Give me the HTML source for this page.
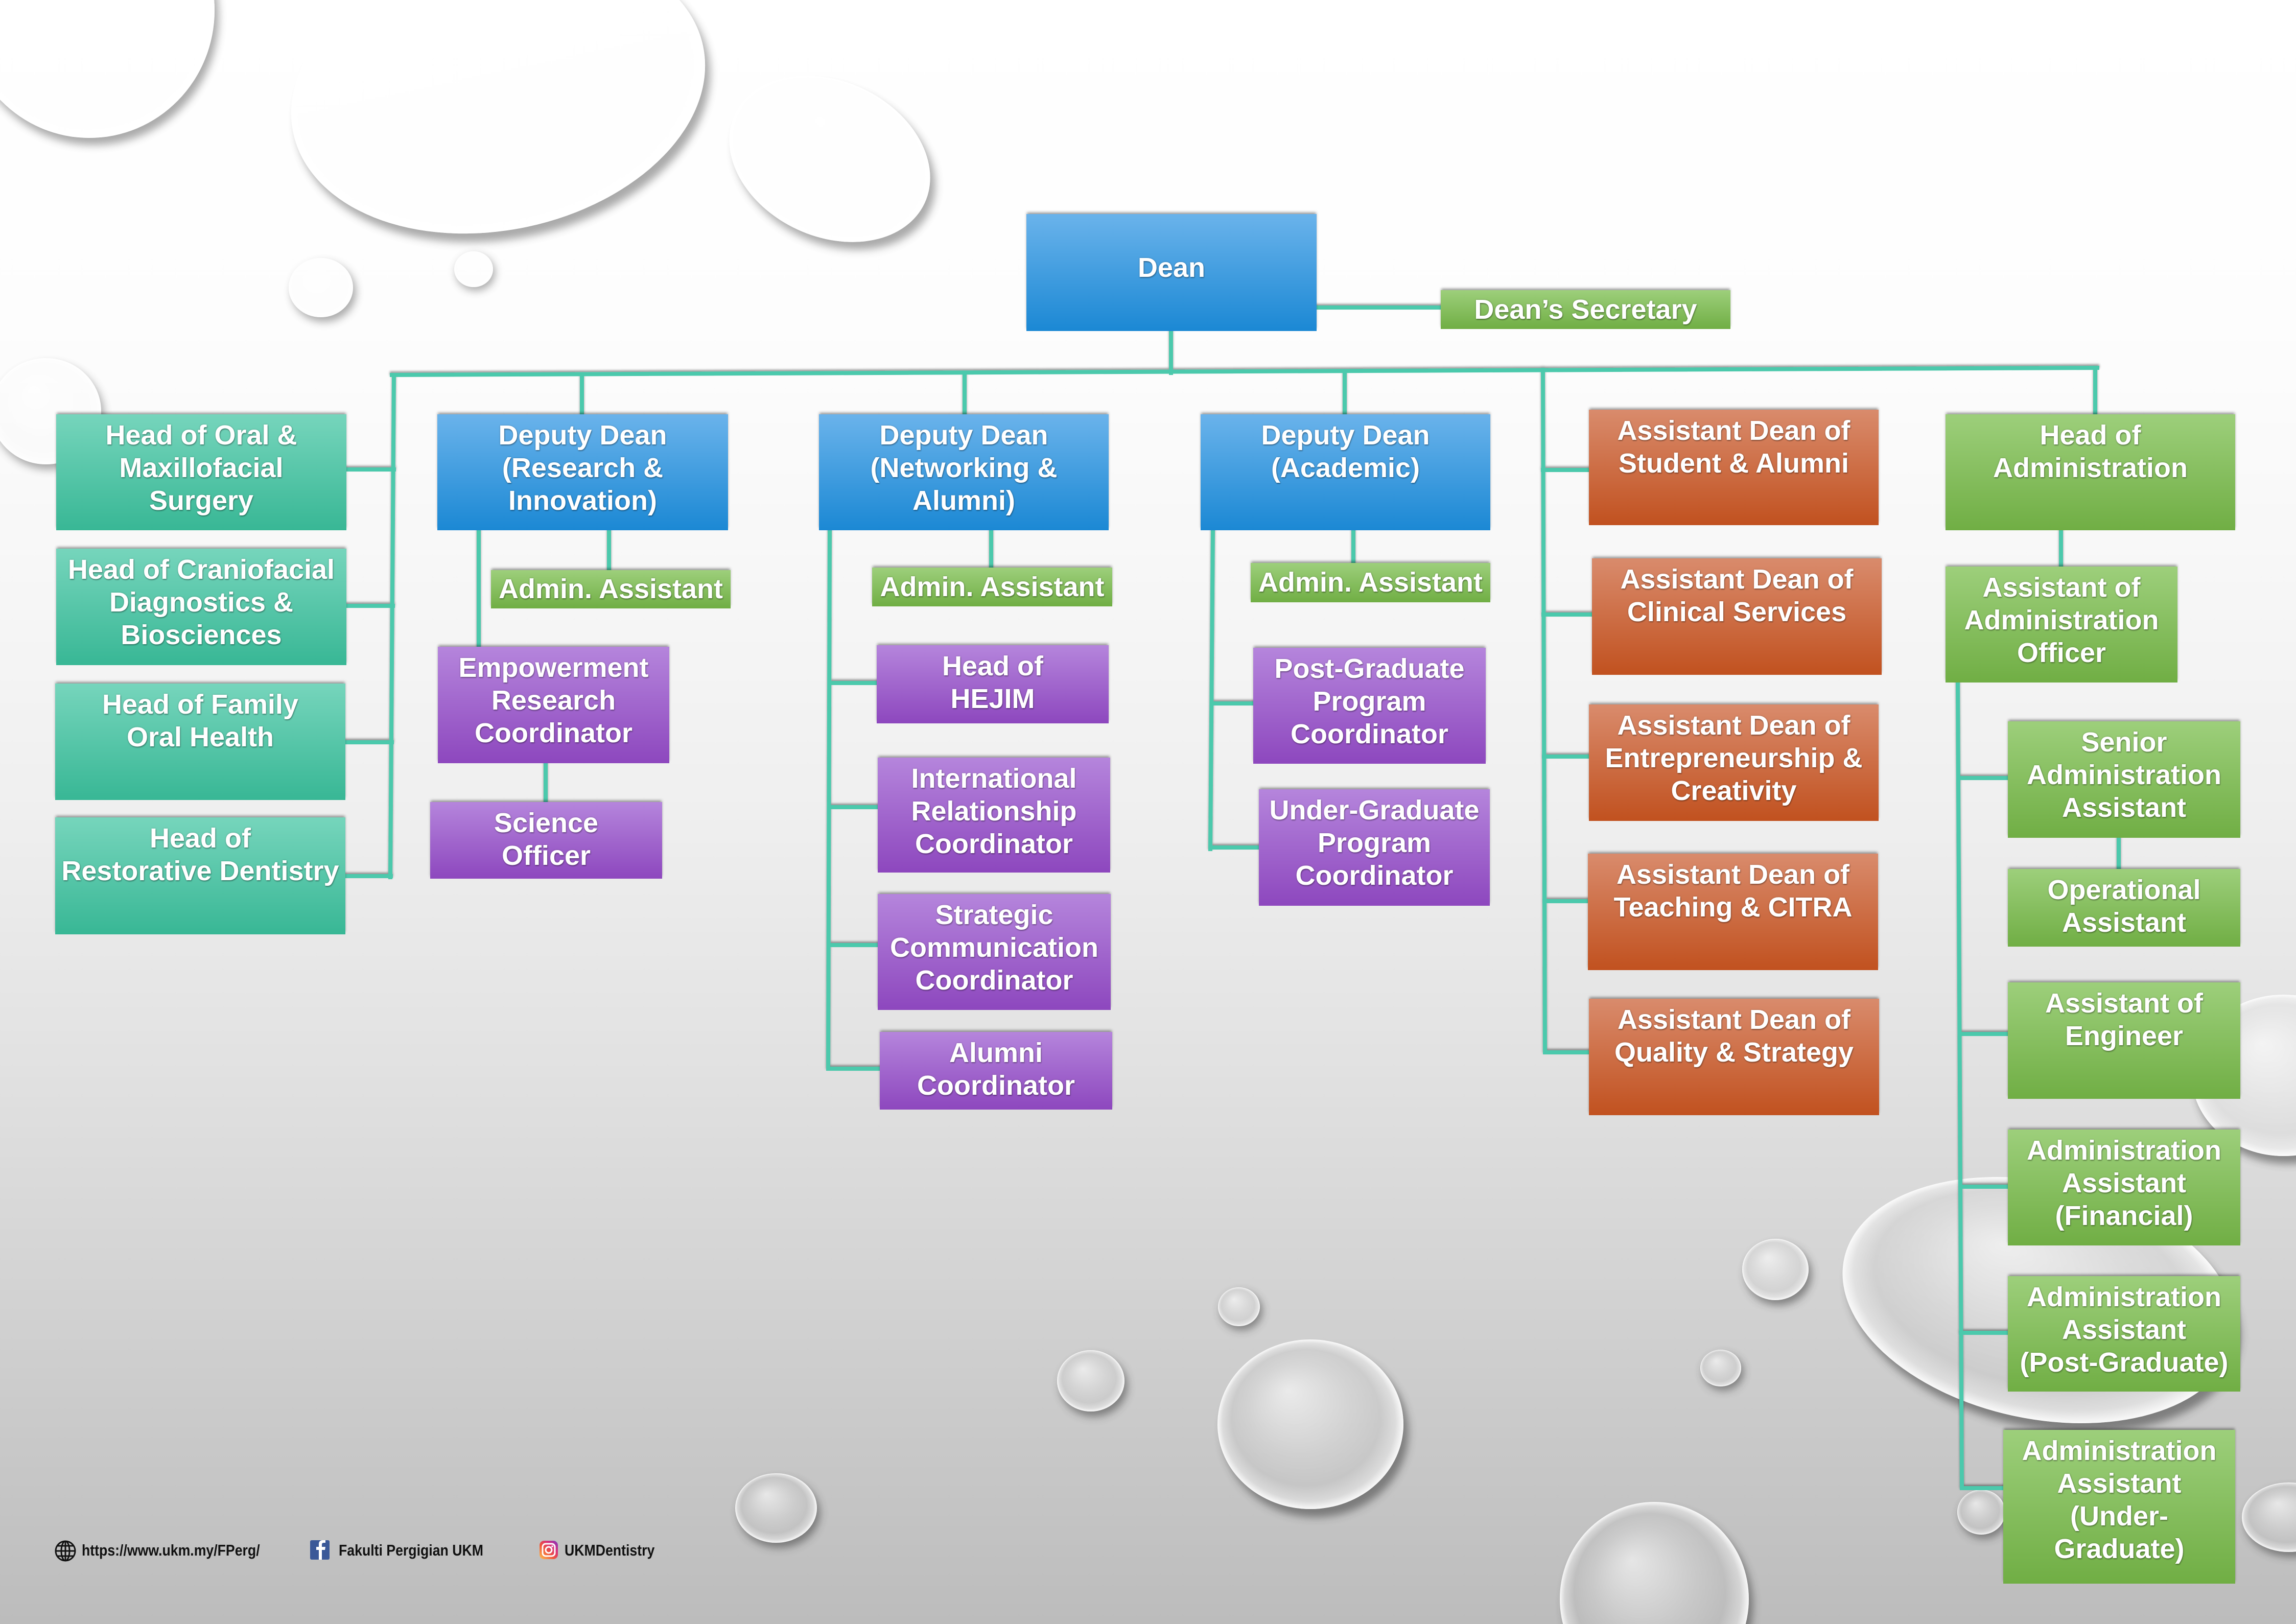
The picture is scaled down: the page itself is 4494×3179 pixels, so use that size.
<!DOCTYPE html>
<html><head><meta charset="utf-8">
<style>
html,body{margin:0;padding:0;width:4494px;height:3179px;overflow:hidden;}
body{position:relative;font-family:"Liberation Sans",Arial,sans-serif;background:#eee;}
svg.bg{position:absolute;left:0;top:0;display:block;}
.b{position:absolute;box-sizing:border-box;color:#fff;font-weight:bold;font-size:54px;line-height:64px;text-align:center;padding-top:9px;white-space:nowrap;text-shadow:0 0 3px rgba(0,0,0,.25),1px 2px 2px rgba(0,0,0,.3);box-shadow:0 -4px 5px -1px rgba(0,0,0,.4);}
.t{background:linear-gradient(#76d5bc,#38b795);}
.u{background:linear-gradient(#6ab3eb,#1b88d4);}
.g{background:linear-gradient(#9dcf7b,#70ae44);}
.p{background:linear-gradient(#b585dc,#8d47be);}
.o{background:linear-gradient(#d98b6c,#c1511f);}
.s{padding-top:0;}
.f{position:absolute;font-weight:bold;font-size:31px;line-height:40px;color:#111;white-space:nowrap;transform:scaleX(0.86);transform-origin:left center;}
</style></head>
<body>
<svg class="bg" width="4494" height="3179" viewBox="0 0 4494 3179" xmlns="http://www.w3.org/2000/svg">
<defs>
<linearGradient id="bgG" x1="0" y1="0" x2="0" y2="3179" gradientUnits="userSpaceOnUse">
<stop offset="0" stop-color="#ffffff"/>
<stop offset="0.2" stop-color="#fdfdfd"/>
<stop offset="0.35" stop-color="#f7f7f7"/>
<stop offset="0.5" stop-color="#efefef"/>
<stop offset="0.65" stop-color="#e2e2e2"/>
<stop offset="0.8" stop-color="#d2d2d2"/>
<stop offset="1" stop-color="#bcbcbc"/>
</linearGradient>
<radialGradient id="hl" cx="0.5" cy="0.5" r="0.5" fx="0.38" fy="0.3">
<stop offset="0" stop-color="#fff" stop-opacity="0.6"/>
<stop offset="0.55" stop-color="#fff" stop-opacity="0.15"/>
<stop offset="0.8" stop-color="#fff" stop-opacity="0"/>
<stop offset="0.93" stop-color="#fff" stop-opacity="0.35"/>
<stop offset="1" stop-color="#fff" stop-opacity="0.9"/>
</radialGradient>
<filter id="blur" x="-30%" y="-30%" width="160%" height="160%"><feGaussianBlur stdDeviation="8"/></filter>
<filter id="ls" x="-10%" y="-10%" width="120%" height="120%"><feDropShadow dx="0" dy="-3" stdDeviation="2" flood-color="#000" flood-opacity="0.4"/></filter>
</defs>
<rect x="0" y="0" width="4494" height="3179" fill="url(#bgG)"/>

<!-- bubbles -->
<g>
<ellipse cx="183" cy="34" rx="245" ry="250" fill="#444" opacity="0.45" filter="url(#blur)"/>
<ellipse cx="175" cy="20" rx="245" ry="250" fill="url(#bgG)"/>
<ellipse cx="175" cy="20" rx="245" ry="250" fill="url(#hl)"/>

<ellipse cx="985" cy="192" rx="410" ry="275" fill="#444" opacity="0.45" filter="url(#blur)" transform="rotate(-12 985 192)"/>
<ellipse cx="975" cy="175" rx="410" ry="275" fill="url(#bgG)" transform="rotate(-12 975 175)"/>
<ellipse cx="975" cy="175" rx="410" ry="275" fill="url(#hl)" transform="rotate(-12 975 175)"/>

<ellipse cx="1634" cy="326" rx="205" ry="152" fill="#444" opacity="0.45" filter="url(#blur)" transform="rotate(25 1634 326)"/>
<ellipse cx="1624" cy="311" rx="205" ry="152" fill="url(#bgG)" transform="rotate(25 1624 311)"/>
<ellipse cx="1624" cy="311" rx="205" ry="152" fill="url(#hl)" transform="rotate(25 1624 311)"/>

<ellipse cx="634" cy="572" rx="63" ry="58" fill="#444" opacity="0.45" filter="url(#blur)"/>
<ellipse cx="628" cy="563" rx="63" ry="58" fill="url(#bgG)"/>
<ellipse cx="628" cy="563" rx="63" ry="58" fill="url(#hl)"/>

<ellipse cx="931" cy="534" rx="38" ry="35" fill="#444" opacity="0.45" filter="url(#blur)"/>
<ellipse cx="927" cy="527" rx="38" ry="35" fill="url(#bgG)"/>
<ellipse cx="927" cy="527" rx="38" ry="35" fill="url(#hl)"/>

<ellipse cx="96" cy="815" rx="108" ry="104" fill="#444" opacity="0.45" filter="url(#blur)"/>
<ellipse cx="90" cy="805" rx="108" ry="104" fill="url(#bgG)"/>
<ellipse cx="90" cy="805" rx="108" ry="104" fill="url(#hl)"/>

<ellipse cx="2575" cy="2804" rx="182" ry="166" fill="#333" opacity="0.5" filter="url(#blur)"/>
<ellipse cx="2565" cy="2788" rx="182" ry="166" fill="url(#bgG)"/>
<ellipse cx="2565" cy="2788" rx="182" ry="166" fill="url(#hl)"/>

<ellipse cx="2141" cy="2713" rx="66" ry="60" fill="#333" opacity="0.5" filter="url(#blur)"/>
<ellipse cx="2135" cy="2703" rx="66" ry="60" fill="url(#bgG)"/>
<ellipse cx="2135" cy="2703" rx="66" ry="60" fill="url(#hl)"/>

<ellipse cx="2430" cy="2566" rx="41" ry="38" fill="#333" opacity="0.5" filter="url(#blur)"/>
<ellipse cx="2425" cy="2558" rx="41" ry="38" fill="url(#bgG)"/>
<ellipse cx="2425" cy="2558" rx="41" ry="38" fill="url(#hl)"/>

<ellipse cx="1525" cy="2962" rx="80" ry="68" fill="#333" opacity="0.5" filter="url(#blur)"/>
<ellipse cx="1519" cy="2952" rx="80" ry="68" fill="url(#bgG)"/>
<ellipse cx="1519" cy="2952" rx="80" ry="68" fill="url(#hl)"/>

<ellipse cx="3481" cy="2495" rx="65" ry="60" fill="#333" opacity="0.5" filter="url(#blur)"/>
<ellipse cx="3475" cy="2485" rx="65" ry="60" fill="url(#bgG)"/>
<ellipse cx="3475" cy="2485" rx="65" ry="60" fill="url(#hl)"/>

<ellipse cx="3373" cy="2686" rx="40" ry="36" fill="#333" opacity="0.5" filter="url(#blur)"/>
<ellipse cx="3368" cy="2678" rx="40" ry="36" fill="url(#bgG)"/>
<ellipse cx="3368" cy="2678" rx="40" ry="36" fill="url(#hl)"/>

<ellipse cx="4001" cy="2563" rx="390" ry="232" fill="#333" opacity="0.5" filter="url(#blur)" transform="rotate(12 4001 2563)"/>
<ellipse cx="3991" cy="2545" rx="390" ry="232" fill="url(#bgG)" transform="rotate(12 3991 2545)"/>
<ellipse cx="3991" cy="2545" rx="390" ry="232" fill="url(#hl)" transform="rotate(12 3991 2545)"/>

<ellipse cx="3246" cy="3143" rx="185" ry="190" fill="#333" opacity="0.5" filter="url(#blur)"/>
<ellipse cx="3238" cy="3130" rx="185" ry="190" fill="url(#bgG)"/>
<ellipse cx="3238" cy="3130" rx="185" ry="190" fill="url(#hl)"/>

<ellipse cx="4478" cy="2120" rx="180" ry="158" fill="#333" opacity="0.5" filter="url(#blur)"/>
<ellipse cx="4470" cy="2105" rx="180" ry="158" fill="url(#bgG)"/>
<ellipse cx="4470" cy="2105" rx="180" ry="158" fill="url(#hl)"/>

<ellipse cx="4486" cy="2980" rx="92" ry="68" fill="#333" opacity="0.5" filter="url(#blur)"/>
<ellipse cx="4480" cy="2970" rx="92" ry="68" fill="url(#bgG)"/>
<ellipse cx="4480" cy="2970" rx="92" ry="68" fill="url(#hl)"/>

<ellipse cx="3883" cy="2968" rx="47" ry="44" fill="#333" opacity="0.5" filter="url(#blur)"/>
<ellipse cx="3878" cy="2960" rx="47" ry="44" fill="url(#bgG)"/>
<ellipse cx="3878" cy="2960" rx="47" ry="44" fill="url(#hl)"/>
</g>

<!-- connectors -->
<g stroke="#4cc9ac" stroke-width="8" fill="none" stroke-linecap="square" filter="url(#ls)">
<path d="M2292 648 V730"/>
<path d="M2577 602 H2820"/>
<path d="M767 734 L4105 720"/>
<path d="M771 734 L764 1717"/>
<path d="M678 919 H771 M678 1186 H769 M676 1453 H767 M676 1715 H765"/>
<path d="M1139 733 V811"/>
<path d="M1192 1038 V1116"/>
<path d="M937 1038 V1266"/>
<path d="M1068 1494 V1570"/>
<path d="M1888 730 V811"/>
<path d="M1940 1038 V1111"/>
<path d="M1624 1038 L1621 2092"/>
<path d="M1624 1337 H1716 M1623 1580 H1718 M1622 1850 H1718 M1621 2092 H1722"/>
<path d="M2632 727 V811"/>
<path d="M2649 1038 V1102"/>
<path d="M2374 1038 L2369 1662"/>
<path d="M2373 1377 H2453 M2369 1659 H2464"/>
<path d="M3020 724 L3024 2060"/>
<path d="M3020 920 H3110 M3021 1203 H3116 M3022 1481 H3110 M3023 1764 H3108 M3024 2060 H3110"/>
<path d="M4101 720 V811"/>
<path d="M4034 1038 V1109"/>
<path d="M3832 1336 L3840 2913"/>
<path d="M3833 1523 H3930"/>
<path d="M4147 1640 V1701"/>
<path d="M3836 2024 H3930 M3837 2323 H3930 M3838 2609 H3930 M3840 2913 H3921"/>
</g>

<!-- footer icons -->
<g stroke="#111" stroke-width="3" fill="none">
<circle cx="128" cy="3036" r="19"/>
<ellipse cx="128" cy="3036" rx="8" ry="19"/>
<line x1="109" y1="3036" x2="147" y2="3036"/>
<line x1="113" y1="3026" x2="143" y2="3026"/>
<line x1="113" y1="3046" x2="143" y2="3046"/>
<line x1="128" y1="3017" x2="128" y2="3055"/>
</g>
<rect x="607" y="3015" width="38" height="38" rx="3" fill="#3b5998"/>
<path d="M630 3053 V3034 H636 L637 3028 H630 V3024 C630 3021 631 3020 634 3020 H637 V3015 H632 C626 3015 624 3018 624 3023 V3028 H619 V3034 H624 V3053 Z" fill="#fff"/>
<defs>
<linearGradient id="ig" x1="0" y1="1" x2="1" y2="0">
<stop offset="0" stop-color="#fdc453"/>
<stop offset="0.4" stop-color="#f0573b"/>
<stop offset="0.7" stop-color="#d62f7d"/>
<stop offset="1" stop-color="#7a3bc7"/>
</linearGradient>
</defs>
<rect x="1056" y="3016" width="36" height="36" rx="9" fill="url(#ig)"/>
<rect x="1062" y="3022" width="24" height="24" rx="6" fill="none" stroke="#fff" stroke-width="3"/>
<circle cx="1074" cy="3034" r="6" fill="none" stroke="#fff" stroke-width="3"/>
<circle cx="1081" cy="3027" r="1.8" fill="#fff"/>
</svg>

<!-- teal -->
<div class="b t" style="left:110px;top:811px;width:568px;height:227px;">Head of Oral &amp;<br>Maxillofacial<br>Surgery</div>
<div class="b t" style="left:110px;top:1074px;width:568px;height:228px;">Head of Craniofacial<br>Diagnostics &amp;<br>Biosciences</div>
<div class="b t" style="left:108px;top:1338px;width:568px;height:228px;">Head of Family<br>Oral Health</div>
<div class="b t" style="left:108px;top:1600px;width:568px;height:229px;">Head of<br>Restorative Dentistry</div>

<!-- blue -->
<div class="b u" style="left:2009px;top:419px;width:568px;height:229px;padding-top:73px;">Dean</div>
<div class="b u" style="left:856px;top:811px;width:569px;height:227px;">Deputy Dean<br>(Research &amp;<br>Innovation)</div>
<div class="b u" style="left:1603px;top:811px;width:567px;height:227px;">Deputy Dean<br>(Networking &amp;<br>Alumni)</div>
<div class="b u" style="left:2350px;top:811px;width:567px;height:227px;">Deputy Dean<br>(Academic)</div>

<!-- green -->
<div class="b g s" style="left:2820px;top:568px;width:567px;height:76px;line-height:76px;">Dean’s Secretary</div>
<div class="b g s" style="left:961px;top:1116px;width:469px;height:75px;line-height:75px;">Admin. Assistant</div>
<div class="b g s" style="left:1707px;top:1111px;width:470px;height:76px;line-height:76px;">Admin. Assistant</div>
<div class="b g s" style="left:2448px;top:1102px;width:469px;height:77px;line-height:77px;">Admin. Assistant</div>
<div class="b g" style="left:3808px;top:811px;width:567px;height:227px;">Head of<br>Administration</div>
<div class="b g" style="left:3808px;top:1109px;width:454px;height:227px;">Assistant of<br>Administration<br>Officer</div>
<div class="b g" style="left:3930px;top:1412px;width:455px;height:228px;">Senior<br>Administration<br>Assistant</div>
<div class="b g" style="left:3930px;top:1701px;width:455px;height:152px;">Operational<br>Assistant</div>
<div class="b g" style="left:3930px;top:1923px;width:455px;height:228px;">Assistant of<br>Engineer</div>
<div class="b g" style="left:3930px;top:2211px;width:455px;height:227px;">Administration<br>Assistant<br>(Financial)</div>
<div class="b g" style="left:3930px;top:2498px;width:455px;height:226px;">Administration<br>Assistant<br>(Post-Graduate)</div>
<div class="b g" style="left:3921px;top:2799px;width:454px;height:301px;">Administration<br>Assistant<br>(Under-<br>Graduate)</div>

<!-- purple -->
<div class="b p" style="left:857px;top:1266px;width:453px;height:228px;">Empowerment<br>Research<br>Coordinator</div>
<div class="b p" style="left:842px;top:1570px;width:454px;height:150px;">Science<br>Officer</div>
<div class="b p" style="left:1716px;top:1263px;width:454px;height:153px;">Head of<br>HEJIM</div>
<div class="b p" style="left:1718px;top:1483px;width:455px;height:225px;">International<br>Relationship<br>Coordinator</div>
<div class="b p" style="left:1718px;top:1750px;width:456px;height:227px;">Strategic<br>Communication<br>Coordinator</div>
<div class="b p" style="left:1722px;top:2020px;width:455px;height:152px;">Alumni<br>Coordinator</div>
<div class="b p" style="left:2453px;top:1268px;width:455px;height:227px;">Post-Graduate<br>Program<br>Coordinator</div>
<div class="b p" style="left:2464px;top:1545px;width:452px;height:228px;">Under-Graduate<br>Program<br>Coordinator</div>

<!-- orange -->
<div class="b o" style="left:3110px;top:802px;width:567px;height:226px;">Assistant Dean of<br>Student &amp; Alumni</div>
<div class="b o" style="left:3116px;top:1093px;width:567px;height:228px;">Assistant Dean of<br>Clinical Services</div>
<div class="b o" style="left:3110px;top:1379px;width:567px;height:228px;">Assistant Dean of<br>Entrepreneurship &amp;<br>Creativity</div>
<div class="b o" style="left:3108px;top:1671px;width:568px;height:228px;">Assistant Dean of<br>Teaching &amp; CITRA</div>
<div class="b o" style="left:3110px;top:1955px;width:568px;height:228px;">Assistant Dean of<br>Quality &amp; Strategy</div>

<!-- footer -->
<div class="f" style="left:160px;top:3015px;">https://www.ukm.my/FPerg/</div>
<div class="f" style="left:663px;top:3015px;">Fakulti Pergigian UKM</div>
<div class="f" style="left:1105px;top:3015px;">UKMDentistry</div>
</body></html>
